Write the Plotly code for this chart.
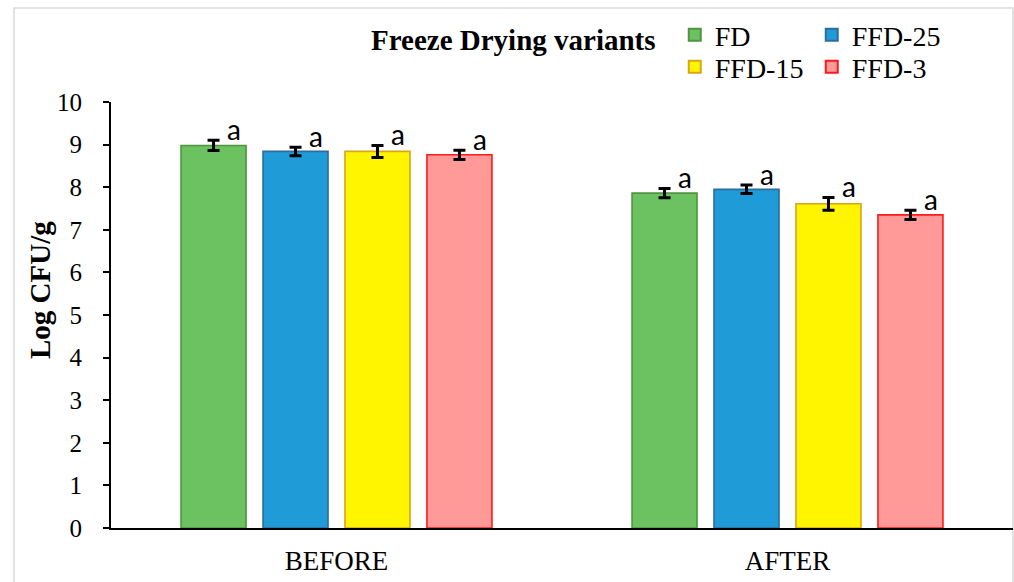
import plotly.graph_objects as go

# Sampling stages and drying variants
stages = ["BEFORE", "AFTER"]
variants = ["FD", "FFD-25", "FFD-15", "FFD-3"]

# Mean viable counts (log CFU/g) per variant, ordered as stages
fd_mean = [8.98, 7.86]
ffd25_mean = [8.84, 7.95]
ffd15_mean = [8.84, 7.61]
ffd3_mean = [8.76, 7.35]

# Standard deviations
fd_sd = [0.12, 0.11]
ffd25_sd = [0.10, 0.10]
ffd15_sd = [0.14, 0.15]
ffd3_sd = [0.11, 0.11]

# Significance letters
fd_sig = ["a", "a"]
ffd25_sig = ["a", "a"]
ffd15_sig = ["a", "a"]
ffd3_sig = ["a", "a"]

y_ticks = [0, 1, 2, 3, 4, 5, 6, 7, 8, 9, 10]

means = [fd_mean, ffd25_mean, ffd15_mean, ffd3_mean]
sds = [fd_sd, ffd25_sd, ffd15_sd, ffd3_sd]
sigs = [fd_sig, ffd25_sig, ffd15_sig, ffd3_sig]
fills = ["#6cc160", "#1f9bd8", "#fff500", "#ff9a99"]
edges = ["#4f9440", "#2f6b9c", "#d9a416", "#ff1a1a"]
legend_rows = ["legend", "legend", "legend2", "legend2"]

BARGAP = 0.273
GROUPGAP = 0.207
n = len(variants)
slot = (1 - BARGAP) / n

serif = "Liberation Serif, Times New Roman, serif"

fig = go.Figure()
stage_idx = list(range(len(stages)))
for k, name in enumerate(variants):
    fig.add_trace(go.Bar(
        x=stage_idx, y=means[k], name=name, legend=legend_rows[k],
        marker=dict(color=fills[k], line=dict(color=edges[k], width=1.6)),
        error_y=dict(type="data", array=sds[k], color="black", thickness=3, width=6),
    ))
    # letter placed to the upper right of each error bar
    offset = -(1 - BARGAP) / 2 + slot * (k + 0.5)
    for i in stage_idx:
        fig.add_annotation(
            x=i + offset + 0.045, y=means[k][i] + sds[k][i],
            text=sigs[k][i], showarrow=False, xanchor="center", yanchor="bottom",
            yshift=-8, font=dict(family="Lato, Liberation Sans, sans-serif", size=28, color="black"),
        )

# legend heading
fig.add_annotation(
    xref="paper", yref="paper", x=0.4457, y=1.1455, xanchor="center", yanchor="middle",
    text="<b>Freeze Drying variants</b>", showarrow=False,
    font=dict(family=serif, size=29, color="black"),
)

# y-axis caption
fig.add_annotation(
    xref="paper", yref="paper", x=-0.0787, y=0.5587, xanchor="center", yanchor="middle",
    text="<b>Log CFU/g</b>", showarrow=False, textangle=-90,
    font=dict(family=serif, size=29, color="black"),
)

legend_style = dict(
    orientation="h", xanchor="left", yanchor="top",
    entrywidth=92, entrywidthmode="pixels",
    font=dict(family=serif, size=28, color="black"),
    itemsizing="constant", tracegroupgap=0,
    bgcolor="rgba(0,0,0,0)",
)

fig.update_layout(
    width=1014, height=582,
    margin=dict(l=111, r=1, t=102, b=54, autoexpand=False),
    paper_bgcolor="white", plot_bgcolor="white",
    barmode="group", bargap=BARGAP, bargroupgap=GROUPGAP,
    font=dict(family=serif, color="black"),
    showlegend=True,
    legend=dict(x=0.625, y=1.216, **legend_style),
    legend2=dict(x=0.625, y=1.1408, **legend_style),
    xaxis=dict(
        range=[-0.5, 1.5], tickmode="array", tickvals=stage_idx, ticktext=stages,
        showline=True, linecolor="black", linewidth=2, ticks="", showgrid=False,
        zeroline=False, tickfont=dict(family=serif, size=27), ticklabelstandoff=8,
    ),
    yaxis=dict(
        range=[0, 10], tickmode="array", tickvals=y_ticks,
        showline=True, linecolor="black", linewidth=2, ticks="outside", ticklen=6,
        tickwidth=2, tickcolor="black", showgrid=False, zeroline=False,
        tickfont=dict(family=serif, size=25), ticklabelstandoff=16,
    ),
)

# light grey chart-area border
fig.add_shape(type="rect", xref="paper", yref="paper",
              x0=-0.1075, x1=1.0, y0=-0.2, y1=1.2207,
              line=dict(color="#d9d9d9", width=1.5), fillcolor="rgba(0,0,0,0)", layer="below")

fig.write_html("out.html")
